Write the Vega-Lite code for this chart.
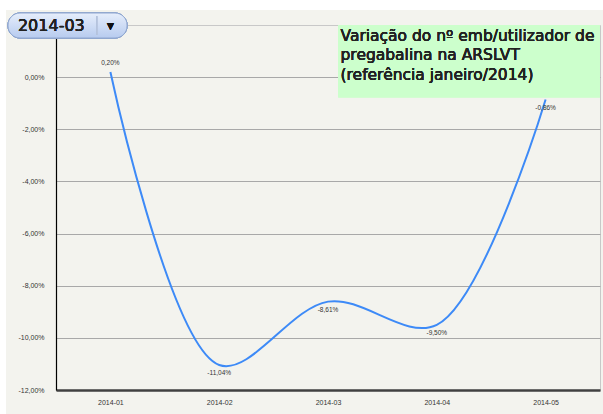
{
  "$schema": "https://vega.github.io/schema/vega-lite/v6.json",
  "width": 544,
  "height": 365,
  "autosize": {"type": "none"},
  "padding": {"left": 56, "top": 25, "right": 3, "bottom": 24},
  "background": "#f3f3ee",
  "view": {"stroke": "#c8c8c8", "strokeWidth": 1},
  "data": {
    "values": [
      {"mes": "2014-01", "n": 1, "v": 0.20},
      {"mes": "2014-02", "n": 2, "v": -11.04},
      {"mes": "2014-03", "n": 3, "v": -8.61},
      {"mes": "2014-04", "n": 4, "v": -9.50},
      {"mes": "2014-05", "n": 5, "v": -0.86}
    ]
  },
  "encoding": {
    "x": {
      "field": "n", "type": "quantitative",
      "scale": {"domain": [0.5, 5.5], "nice": false, "zero": false},
      "axis": {
        "title": null, "values": [1, 2, 3, 4, 5], "grid": false, "ticks": false,
        "labelExpr": "'2014-0' + datum.value",
        "labelFont": "Liberation Sans", "labelFontSize": 7, "labelColor": "#333333",
        "labelPadding": 8, "domainColor": "#404040", "domainWidth": 2.5
      }
    },
    "y": {
      "field": "v", "type": "quantitative",
      "scale": {"domain": [-12, 2], "nice": false, "zero": false},
      "axis": {
        "title": null, "values": [-12, -10, -8, -6, -4, -2, 0],
        "ticks": false, "grid": true, "gridColor": "#a8a8a8", "gridWidth": 1.2,
        "labelExpr": "replace(replace(format(datum.value, '.2f'), '.', ','), '\u2212', '-') + '%'",
        "labelFont": "Liberation Sans", "labelFontSize": 7, "labelColor": "#333333",
        "labelPadding": 12, "domainColor": "#000000", "domainWidth": 1.2
      }
    }
  },
  "layer": [
    {
      "mark": {"type": "line", "interpolate": "catmull-rom", "color": "#3d8af7", "strokeWidth": 2}
    },
    {
      "transform": [{"filter": "datum.v > 0"}, {"calculate": "replace(replace(format(datum.v, '.2f'), '.', ','), '\u2212', '-') + '%'", "as": "lbl"}],
      "mark": {"type": "text", "dy": -9, "font": "Liberation Sans", "fontSize": 6.5, "color": "#333333"},
      "encoding": {"text": {"field": "lbl", "type": "nominal"}}
    },
    {
      "transform": [{"filter": "datum.v <= 0"}, {"calculate": "replace(replace(format(datum.v, '.2f'), '.', ','), '\u2212', '-') + '%'", "as": "lbl"}],
      "mark": {"type": "text", "dy": 8, "font": "Liberation Sans", "fontSize": 6.5, "color": "#333333"},
      "encoding": {"text": {"field": "lbl", "type": "nominal"}}
    },
    {
      "mark": {"type": "rect", "fill": "#ccffcc", "clip": false},
      "encoding": {
        "x": {"datum": 3.092}, "x2": {"datum": 5.5},
        "y": {"datum": 2}, "y2": {"datum": -0.77}
      }
    },
    {
      "mark": {"type": "text", "align": "left", "baseline": "top", "font": "DejaVu Sans", "fontSize": 15.5, "lineHeight": 19.5, "color": "#222222",
        "text": ["Variação do nº emb/utilizador de", "pregabalina na ARSLVT", "(referência janeiro/2014)"]},
      "encoding": {"x": {"datum": 3.115}, "y": {"datum": 1.85}}
    },
    {
      "mark": {"type": "rect", "cornerRadius": 12, "stroke": "#8fa6cf", "strokeWidth": 1,
        "fill": {"gradient": "linear", "x1": 0, "y1": 0, "x2": 0, "y2": 1,
          "stops": [{"offset": 0, "color": "#e6eefb"}, {"offset": 1, "color": "#b7cbef"}]}},
      "encoding": {
        "x": {"datum": 0.059}, "x2": {"datum": 1.153},
        "y": {"datum": 2.46}, "y2": {"datum": 1.5}
      }
    },
    {
      "mark": {"type": "text", "align": "left", "baseline": "middle", "font": "DejaVu Sans", "fontSize": 16, "color": "#222222", "text": "2014-03"},
      "encoding": {"x": {"datum": 0.15}, "y": {"datum": 1.98}}
    },
    {
      "mark": {"type": "rule", "color": "#b4c3dd", "strokeWidth": 1},
      "encoding": {"x": {"datum": 0.875}, "y": {"datum": 2.34}, "y2": {"datum": 1.62}}
    },
    {
      "mark": {"type": "text", "align": "center", "baseline": "middle", "font": "DejaVu Sans", "fontSize": 9, "color": "#111111", "text": "▼"},
      "encoding": {"x": {"datum": 1.0}, "y": {"datum": 1.98}}
    },
    {
      "mark": {"type": "rect", "fill": "#ffffff"},
      "encoding": {
        "x": {"datum": -0.02}, "x2": {"datum": 5.53},
        "y": {"datum": 2.97}, "y2": {"datum": 2.58}
      }
    },
    {
      "mark": {"type": "rect", "fill": "#ffffff"},
      "encoding": {
        "x": {"datum": -0.02}, "x2": {"datum": 0.04},
        "y": {"datum": 2.97}, "y2": {"datum": -12.95}
      }
    }
  ]
}
